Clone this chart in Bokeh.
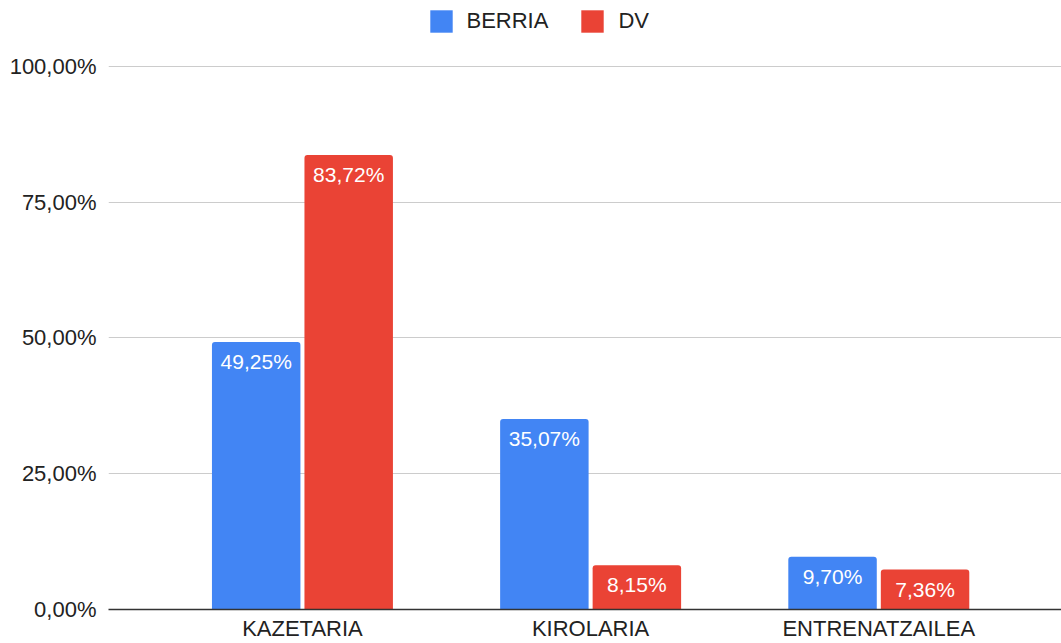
from bokeh.plotting import figure
from bokeh.models import (ColumnDataSource, Range1d, FixedTicker, LabelSet,
                          Legend, LegendItem)
from bokeh.transform import dodge
from bokeh.embed import file_html
from bokeh.resources import INLINE
from bokeh.core.properties import value

# ---- data ----
categories = ["KAZETARIA", "KIROLARIA", "ENTRENATZAILEA"]
berria = [49.25, 35.07, 9.70]
dv = [83.72, 8.15, 7.36]
berria_labels = ["49,25%", "35,07%", "9,70%"]
dv_labels = ["83,72%", "8,15%", "7,36%"]
y_ticks = [0, 25, 50, 75, 100]
y_tick_labels = ["0,00%", "25,00%", "50,00%", "75,00%", "100,00%"]
series_names = ["BERRIA", "DV"]

# ---- style ----
BLUE = "#4285F4"
RED = "#EA4335"
FONT = "Liberation Sans"
BAR_W = 0.307
OFF = 0.1605

idx = list(range(len(categories)))
src = ColumnDataSource(dict(x=idx, berria=berria, dv=dv,
                            bl=berria_labels, dl=dv_labels))

p = figure(width=1061, height=643, output_backend="svg", toolbar_location=None,
           x_range=Range1d(-0.673, 2.634), y_range=Range1d(0, 112.15),
           min_border_left=108, min_border_right=0, min_border_top=0,
           min_border_bottom=34)
p.outline_line_color = None
p.background_fill_color = "white"
p.border_fill_color = "white"

r1 = p.vbar(x=dodge("x", -OFF, range=p.x_range), top="berria", width=BAR_W,
            source=src, fill_color=BLUE, line_color=None,
            border_radius=(3, 3, 0, 0))
r2 = p.vbar(x=dodge("x", OFF, range=p.x_range), top="dv", width=BAR_W,
            source=src, fill_color=RED, line_color=None,
            border_radius=(3, 3, 0, 0))

for col, lab, off in (("berria", "bl", -OFF), ("dv", "dl", OFF)):
    ls = LabelSet(x=dodge("x", off, range=p.x_range), y=col, text=lab,
                  source=src, text_align="center", text_baseline="alphabetic",
                  y_offset=-27, text_color="white", text_font=value(FONT),
                  text_font_size="21px")
    p.add_layout(ls)

# axes
p.xaxis.ticker = FixedTicker(ticks=idx)
p.xaxis.major_label_overrides = {i: c for i, c in zip(idx, categories)}
p.xaxis.axis_line_color = "#333333"
p.xaxis.axis_line_width = 1.3
p.xaxis.major_tick_line_color = None
p.xaxis.major_tick_out = 0
p.xaxis.major_tick_in = 0
p.xaxis.minor_tick_line_color = None
p.xaxis.minor_tick_out = 0
p.xaxis.major_label_standoff = 6
p.xaxis.major_label_text_font = FONT
p.xaxis.major_label_text_font_size = "22px"
p.xaxis.major_label_text_color = "#222222"

p.yaxis.ticker = FixedTicker(ticks=y_ticks)
p.yaxis.major_label_overrides = {t: l for t, l in zip(y_ticks, y_tick_labels)}
p.yaxis.axis_line_color = None
p.yaxis.major_tick_line_color = None
p.yaxis.major_tick_out = 0
p.yaxis.major_tick_in = 0
p.yaxis.minor_tick_line_color = None
p.yaxis.minor_tick_out = 0
p.yaxis.major_label_standoff = 12
p.yaxis.major_label_text_font = FONT
p.yaxis.major_label_text_font_size = "22px"
p.yaxis.major_label_text_color = "#222222"

p.xgrid.grid_line_color = None
p.ygrid.ticker = FixedTicker(ticks=y_ticks[1:])
p.ygrid.grid_line_color = "#cccccc"
p.ygrid.grid_line_width = 1

legend = Legend(items=[LegendItem(label=series_names[0], renderers=[r1]),
                       LegendItem(label=series_names[1], renderers=[r2])],
                orientation="horizontal", location=(318.5, 574.5),
                padding=0, margin=0, spacing=30, label_standoff=12,
                glyph_width=28, glyph_height=28,
                label_text_font=FONT, label_text_font_size="22px",
                label_text_color="#222222",
                background_fill_alpha=0, border_line_alpha=0)
p.add_layout(legend)

open("out.html", "w").write(file_html(p, INLINE))
